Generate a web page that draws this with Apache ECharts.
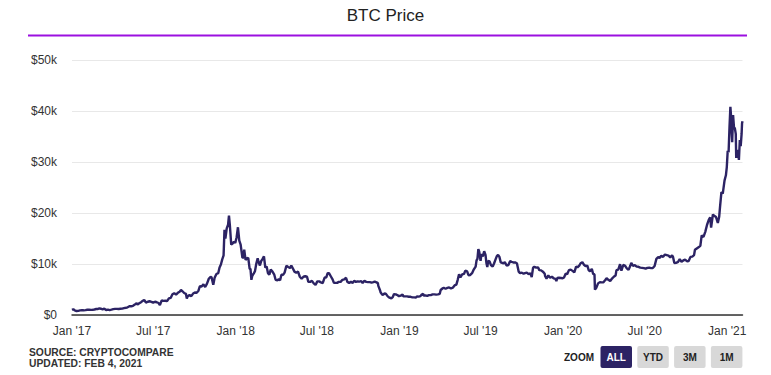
<!DOCTYPE html>
<html>
<head>
<meta charset="utf-8">
<title>BTC Price</title>
<script src="https://cdn.jsdelivr.net/npm/echarts@6/dist/echarts.min.js"></script>
<style>
  html, body { margin: 0; padding: 0; background: #fff; }
  #main { width: 771px; height: 375px; }
</style>
</head>
<body>
<div id="main"></div>
<script>
// BTC closing price (USD)
const dates = [
  '2017-01-01','2017-01-04','2017-01-07','2017-01-11','2017-01-15','2017-01-19','2017-01-23','2017-01-27','2017-01-31',
  '2017-02-04','2017-02-08','2017-02-12','2017-02-16','2017-02-20','2017-02-24','2017-02-28',
  '2017-03-03','2017-03-07','2017-03-10','2017-03-14','2017-03-18','2017-03-22','2017-03-26','2017-03-30',
  '2017-04-03','2017-04-07','2017-04-11','2017-04-15','2017-04-19','2017-04-23','2017-04-27',
  '2017-05-01','2017-05-05','2017-05-09','2017-05-13','2017-05-17','2017-05-21','2017-05-25','2017-05-27','2017-05-31',
  '2017-06-04','2017-06-08','2017-06-11','2017-06-15','2017-06-19','2017-06-23','2017-06-27',
  '2017-07-01','2017-07-05','2017-07-09','2017-07-13','2017-07-16','2017-07-20','2017-07-24','2017-07-28',
  '2017-08-01','2017-08-05','2017-08-09','2017-08-13','2017-08-17','2017-08-21','2017-08-25','2017-08-29',
  '2017-09-01','2017-09-05','2017-09-08','2017-09-12','2017-09-14','2017-09-16','2017-09-20','2017-09-24','2017-09-28',
  '2017-10-02','2017-10-06','2017-10-10','2017-10-13','2017-10-17','2017-10-21','2017-10-25','2017-10-29',
  '2017-11-02','2017-11-05','2017-11-08','2017-11-12','2017-11-15','2017-11-19','2017-11-23','2017-11-26','2017-11-29',
  '2017-12-02','2017-12-05','2017-12-07','2017-12-09','2017-12-12','2017-12-15','2017-12-17','2017-12-19','2017-12-22','2017-12-25','2017-12-28','2017-12-31',
  '2018-01-03','2018-01-06','2018-01-09','2018-01-12','2018-01-16','2018-01-18','2018-01-20','2018-01-23','2018-01-26','2018-01-29',
  '2018-02-01','2018-02-03','2018-02-05','2018-02-07','2018-02-10','2018-02-13','2018-02-16','2018-02-19','2018-02-21','2018-02-24','2018-02-27',
  '2018-03-02','2018-03-05','2018-03-08','2018-03-11','2018-03-14','2018-03-17','2018-03-20','2018-03-24','2018-03-28','2018-03-31',
  '2018-04-04','2018-04-07','2018-04-10','2018-04-13','2018-04-17','2018-04-20','2018-04-24','2018-04-28',
  '2018-05-02','2018-05-05','2018-05-08','2018-05-12','2018-05-16','2018-05-20','2018-05-24','2018-05-28',
  '2018-06-01','2018-06-05','2018-06-09','2018-06-12','2018-06-16','2018-06-20','2018-06-24','2018-06-28',
  '2018-07-02','2018-07-06','2018-07-10','2018-07-14','2018-07-18','2018-07-22','2018-07-25','2018-07-28',
  '2018-08-01','2018-08-05','2018-08-08','2018-08-12','2018-08-15','2018-08-19','2018-08-23','2018-08-27','2018-08-31',
  '2018-09-04','2018-09-07','2018-09-11','2018-09-15','2018-09-19','2018-09-22','2018-09-26','2018-09-30',
  '2018-10-04','2018-10-08','2018-10-11','2018-10-15','2018-10-19','2018-10-23','2018-10-27','2018-10-31',
  '2018-11-04','2018-11-07','2018-11-11','2018-11-14','2018-11-15','2018-11-19','2018-11-20','2018-11-24','2018-11-26','2018-11-29',
  '2018-12-02','2018-12-06','2018-12-10','2018-12-14','2018-12-17','2018-12-20','2018-12-24','2018-12-28','2018-12-31',
  '2019-01-04','2019-01-08','2019-01-10','2019-01-14','2019-01-18','2019-01-22','2019-01-26','2019-01-30',
  '2019-02-03','2019-02-07','2019-02-09','2019-02-13','2019-02-17','2019-02-19','2019-02-23','2019-02-24','2019-02-28',
  '2019-03-04','2019-03-08','2019-03-12','2019-03-16','2019-03-20','2019-03-24','2019-03-28',
  '2019-04-01','2019-04-03','2019-04-07','2019-04-10','2019-04-14','2019-04-18','2019-04-22','2019-04-26','2019-04-30',
  '2019-05-04','2019-05-08','2019-05-11','2019-05-14','2019-05-17','2019-05-21','2019-05-25','2019-05-28',
  '2019-06-01','2019-06-04','2019-06-08','2019-06-12','2019-06-16','2019-06-20','2019-06-22','2019-06-24','2019-06-26','2019-06-28',
  '2019-07-01','2019-07-03','2019-07-06','2019-07-09','2019-07-12','2019-07-14','2019-07-16','2019-07-18','2019-07-21','2019-07-24','2019-07-28','2019-07-31',
  '2019-08-03','2019-08-06','2019-08-09','2019-08-12','2019-08-15','2019-08-18','2019-08-21','2019-08-24','2019-08-28',
  '2019-09-01','2019-09-05','2019-09-08','2019-09-12','2019-09-16','2019-09-20','2019-09-24','2019-09-27',
  '2019-10-01','2019-10-05','2019-10-08','2019-10-12','2019-10-16','2019-10-20','2019-10-23','2019-10-26','2019-10-29',
  '2019-11-02','2019-11-06','2019-11-09','2019-11-13','2019-11-17','2019-11-21','2019-11-22','2019-11-25','2019-11-29',
  '2019-12-03','2019-12-07','2019-12-11','2019-12-15','2019-12-17','2019-12-19','2019-12-23','2019-12-27','2019-12-31',
  '2020-01-03','2020-01-07','2020-01-10','2020-01-14','2020-01-18','2020-01-22','2020-01-26','2020-01-30',
  '2020-02-02','2020-02-06','2020-02-09','2020-02-13','2020-02-16','2020-02-20','2020-02-24','2020-02-27',
  '2020-03-01','2020-03-05','2020-03-08','2020-03-11','2020-03-12','2020-03-15','2020-03-19','2020-03-23','2020-03-27','2020-03-31',
  '2020-04-04','2020-04-07','2020-04-11','2020-04-15','2020-04-19','2020-04-23','2020-04-27','2020-04-29',
  '2020-05-03','2020-05-07','2020-05-10','2020-05-14','2020-05-18','2020-05-22','2020-05-26','2020-05-30',
  '2020-06-01','2020-06-05','2020-06-09','2020-06-13','2020-06-17','2020-06-21','2020-06-25','2020-06-29',
  '2020-07-03','2020-07-07','2020-07-11','2020-07-15','2020-07-19','2020-07-23','2020-07-27','2020-07-31',
  '2020-08-03','2020-08-07','2020-08-11','2020-08-15','2020-08-19','2020-08-23','2020-08-27','2020-08-31',
  '2020-09-02','2020-09-05','2020-09-09','2020-09-13','2020-09-17','2020-09-21','2020-09-25','2020-09-29',
  '2020-10-03','2020-10-07','2020-10-11','2020-10-15','2020-10-19','2020-10-21','2020-10-25','2020-10-29',
  '2020-11-02','2020-11-05','2020-11-09','2020-11-13','2020-11-17','2020-11-21','2020-11-24','2020-11-26','2020-11-30',
  '2020-12-03','2020-12-07','2020-12-11','2020-12-14','2020-12-16','2020-12-19','2020-12-22','2020-12-26','2020-12-29','2020-12-31',
  '2021-01-02','2021-01-04','2021-01-06','2021-01-08','2021-01-10','2021-01-11','2021-01-12','2021-01-14','2021-01-16','2021-01-18',
  '2021-01-20','2021-01-21','2021-01-23','2021-01-25','2021-01-27','2021-01-29','2021-01-31','2021-02-02','2021-02-03','2021-02-04'
];

const prices = [
  998,1135,895,780,820,900,920,918,965,
  1035,1055,1000,1035,1080,1175,1190,
  1285,1225,1100,1245,970,1045,965,1040,
  1145,1195,1210,1180,1215,1240,1345,
  1420,1510,1710,1710,1800,2040,2300,2050,2300,
  2520,2800,2950,2440,2600,2700,2590,
  2430,2600,2500,2350,1930,2870,2760,2790,
  2720,3250,3350,4070,4280,4000,4350,4580,
  4900,4600,4320,4160,3240,3680,3900,3700,4200,
  4400,4370,4770,5640,5600,6000,5500,6150,
  7100,7400,7460,5950,7300,8040,8200,9330,9900,
  10900,11700,16700,15000,17000,17700,19500,17600,13800,14000,14400,14150,
  15200,17200,14600,13800,11200,11300,12800,10800,11100,11200,
  9100,9000,6900,7700,8100,8600,10100,11100,10400,9700,10600,
  11000,11500,9300,9500,8200,7900,8900,8500,7900,6900,
  6800,7000,6800,7900,7900,8300,9650,9400,
  9200,9700,9200,8500,8300,8500,7500,7100,
  7500,7600,7500,6500,6500,6700,6200,5900,
  6600,6600,6400,6250,7300,7400,8200,8200,
  7600,7000,6300,6300,6300,6500,6500,6900,7000,
  7300,6500,6300,6500,6300,6700,6500,6600,
  6550,6650,6250,6700,6500,6450,6450,6350,
  6450,6550,6400,6250,5700,4800,4450,3950,4000,4250,
  4150,3650,3400,3250,3500,4100,4050,3870,3700,
  3800,4000,3650,3650,3650,3580,3570,3460,
  3450,3400,3650,3600,3700,3950,4150,3800,3850,
  3750,3900,3900,4050,4050,4000,4050,
  4150,4900,5200,5300,5150,5300,5400,5200,5350,
  5800,5950,6900,8000,7350,7950,8050,8700,
  8550,7800,7850,8200,8950,9500,10700,11000,12900,12400,
  10600,11950,11500,12500,11800,10200,9400,10600,10500,9800,9500,10100,
  10800,11500,11800,11400,10300,10200,10100,10400,9700,
  9800,10600,10400,10300,10300,10150,8500,8200,
  8300,8100,8200,8300,8000,8200,7450,9250,9450,
  9300,9350,8800,8750,8500,8100,7600,7150,7750,
  7300,7500,7200,7100,6650,7250,7300,7250,7200,
  7350,8150,8000,8800,8900,8650,8350,9500,
  9350,9700,10150,10350,9900,9600,9700,8800,
  8550,9050,8050,7950,4970,5350,6200,6450,6400,6430,
  6850,7200,6900,6650,7150,7500,7750,8800,
  8900,9950,8700,9800,9700,9150,8850,9700,
  10200,9650,9780,9480,9450,9300,9250,9190,
  9090,9250,9280,9200,9200,9600,11000,11350,
  11200,11600,11400,11850,11750,11650,11300,11700,
  11400,10200,10250,10350,10950,10450,10700,10850,
  10550,10600,11400,11450,11750,12800,13050,13300,
  13550,15600,15300,16300,17700,18700,19150,17150,19700,
  19450,19200,18050,19250,21300,24100,23800,26400,27400,29000,
  32200,31900,36800,40800,38300,35500,33900,39200,36800,36600,
  35500,30800,32100,32300,30400,34300,33100,35500,37600,38000
];

// axis labels (Jan / Jul of each year)
const tickDates = ['2017-01-01','2017-07-01','2018-01-01','2018-07-01','2019-01-01','2019-07-01','2020-01-01','2020-07-01','2021-01-01'];
const tickLabels = ["Jan '17","Jul '17","Jan '18","Jul '18","Jan '19","Jul '19","Jan '20","Jul '20","Jan '21"];

const yTicks = [0, 10000, 20000, 30000, 40000, 50000];
const zoomButtons = ['ALL', 'YTD', '3M', '1M'];

const toTime = d => Date.parse(d + 'T00:00:00Z');
const tickTimes = tickDates.map(toTime);
const seriesData = dates.map((d, i) => [toTime(d), prices[i]]);

const FONT = '"Liberation Sans Narrow", "Liberation Sans", Arial, sans-serif';
const BOLD = 'bold 10px "Liberation Sans", Arial, sans-serif';
const NAVY = '#2c2364';

let chart = echarts.init(document.getElementById('main'), null, { renderer: 'svg' });

let buttons = [];
zoomButtons.forEach((name, i) => {
    const x = 600.5 + i * 36.8;
    buttons.push({
        type: 'rect',
        shape: { x: x, y: 346, width: 31.5, height: 22, r: 2 },
        style: { fill: i === 0 ? NAVY : '#d8d8d8' }
    });
    buttons.push({
        type: 'text',
        x: x + 15.75, y: 357.5,
        style: {
            text: name, fill: i === 0 ? '#fff' : '#222', font: BOLD,
            align: 'center', verticalAlign: 'middle'
        }
    });
});

var option = {
    backgroundColor: '#fff',
    animation: false,
    title: {
        text: 'BTC Price',
        left: 'center',
        top: 2,
        textStyle: { fontFamily: FONT, fontSize: 17, fontWeight: 'normal', color: '#222' }
    },
    grid: { left: 72, right: 28.5, top: 60, bottom: 60 },
    xAxis: {
        type: 'value',
        min: seriesData[0][0],
        max: seriesData[seriesData.length - 1][0],
        axisLine: { lineStyle: { color: '#333', width: 1.5 } },
        axisTick: { show: false },
        splitLine: { show: false },
        axisLabel: {
            customValues: tickTimes,
            formatter: v => tickLabels[tickTimes.indexOf(+v)] || '',
            fontFamily: FONT, fontSize: 12, color: '#333', margin: 10,
            showMinLabel: true, showMaxLabel: true
        }
    },
    yAxis: {
        type: 'value',
        min: yTicks[0],
        max: yTicks[yTicks.length - 1],
        interval: 10000,
        axisLine: { show: false },
        axisTick: { show: false },
        splitLine: { lineStyle: { color: '#e8e8e8', width: 1 } },
        axisLabel: {
            formatter: v => v === 0 ? '$0' : '$' + (v / 1000) + 'k',
            fontFamily: FONT, fontSize: 12, color: '#333', margin: 15
        }
    },
    series: [{
        name: 'BTC Price',
        type: 'line',
        data: seriesData,
        showSymbol: false,
        lineStyle: { color: NAVY, width: 2.4 },
        z: 3
    }],
    graphic: [
        {
            type: 'line',
            shape: { x1: 28, y1: 35.5, x2: 747, y2: 35.5 },
            style: { stroke: '#9b10e0', lineWidth: 2 }
        },
        {
            type: 'text', x: 29, y: 352,
            style: { text: 'SOURCE: CRYPTOCOMPARE', fill: '#333', font: 'bold 10.3px "Liberation Sans", Arial, sans-serif', verticalAlign: 'middle' }
        },
        {
            type: 'text', x: 29, y: 363,
            style: { text: 'UPDATED: FEB 4, 2021', fill: '#333', font: 'bold 10.3px "Liberation Sans", Arial, sans-serif', verticalAlign: 'middle' }
        },
        {
            type: 'text', x: 594, y: 357.5,
            style: { text: 'ZOOM', fill: '#222', font: BOLD, align: 'right', verticalAlign: 'middle' }
        }
    ].concat(buttons)
};

chart.setOption(option);
</script>
</body>
</html>
